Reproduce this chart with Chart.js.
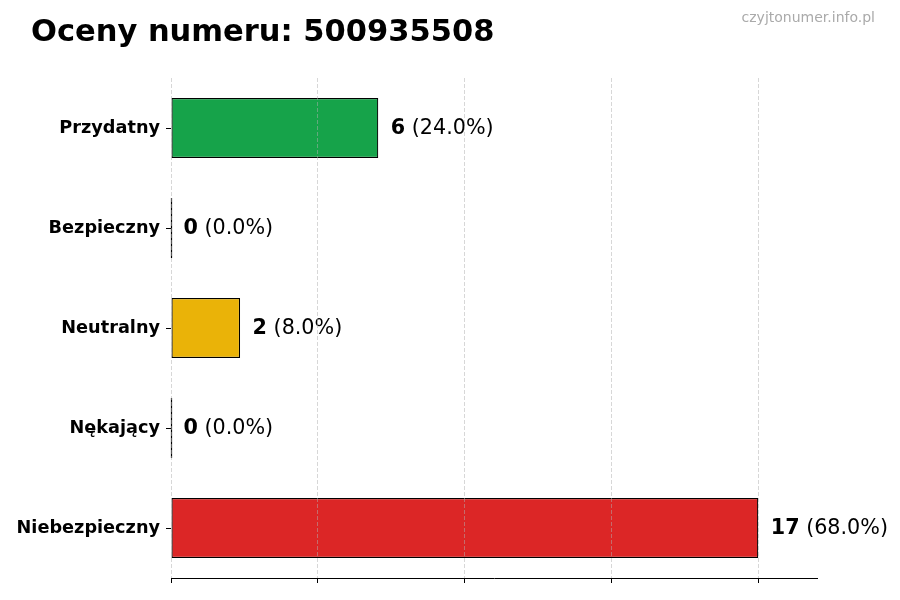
<!DOCTYPE html>
<html>
<head>
<meta charset="utf-8">
<script src="https://cdn.jsdelivr.net/npm/chart.js@4"></script>
<style>
  html, body { margin: 0; padding: 0; background: #fff; }
  #wrap { width: 900px; height: 600px; }
</style>
</head>
<body>
<div id="wrap"><canvas id="chartOceny"></canvas></div>
<script>
// ── DATA ──
const numer = "500935508";
const kategorie = ["Przydatny", "Bezpieczny", "Neutralny", "Nękający", "Niebezpieczny"];
const liczby = [6, 0, 2, 0, 17];
const kolory = ["#16a34a", "#22c55e", "#eab308", "#f97316", "#dc2626"];
const xTicks = [0, 4.25, 8.5, 12.75, 17];
const xMax = 18.7;
const tytul = "Oceny numeru: " + numer;
const watermark = "czyjtonumer.info.pl";

const suma = liczby.reduce((a, b) => a + b, 0);
const FONT = "'DejaVu Sans', sans-serif";

// tytuł, znak wodny, etykiety wartości, obrys słupków o długości 0
const extras = {
    id: "extras",
    afterDatasetsDraw(chart) {
        const ctx = chart.ctx;
        const meta = chart.getDatasetMeta(0);
        ctx.save();
        meta.data.forEach((bar, i) => {
            const v = liczby[i];
            if (v === 0) {
                ctx.strokeStyle = "#000";
                ctx.lineWidth = 1.2;
                ctx.beginPath();
                ctx.moveTo(bar.base + 0.5, bar.y - bar.height / 2);
                ctx.lineTo(bar.base + 0.5, bar.y + bar.height / 2);
                ctx.stroke();
            }
            const pct = " (" + (v / suma * 100).toFixed(1) + "%)";
            let x = bar.x + 12.5;
            ctx.textBaseline = "middle";
            ctx.textAlign = "left";
            ctx.fillStyle = "#000";
            ctx.font = "bold 20.7px " + FONT;
            ctx.fillText(String(v), x, bar.y + 1);
            x += ctx.measureText(String(v)).width;
            ctx.font = "20.7px " + FONT;
            ctx.fillText(pct, x, bar.y + 1);
        });

        ctx.textAlign = "left";
        ctx.textBaseline = "alphabetic";
        ctx.fillStyle = "#000";
        ctx.font = "bold 30.5px " + FONT;
        ctx.fillText(tytul, 31, 41);

        ctx.font = "14px " + FONT;
        ctx.fillStyle = "#aaaaaa";
        ctx.textAlign = "right";
        ctx.textBaseline = "middle";
        ctx.fillText(watermark, 875, 18);
        ctx.restore();
    }
};

new Chart(document.getElementById("chartOceny"), {
    type: "bar",
    data: {
        labels: kategorie,
        datasets: [{
            data: liczby,
            backgroundColor: kolory,
            borderColor: "#000",
            borderWidth: 1.2,
            borderSkipped: false,
            barPercentage: 0.6,
            categoryPercentage: 1
        }]
    },
    options: {
        indexAxis: "y",
        responsive: true,
        maintainAspectRatio: false,
        animation: false,
        layout: { padding: { left: 0, right: 83, top: 78, bottom: 0 } },
        plugins: {
            legend: { display: false },
            tooltip: { enabled: false },
            title: { display: false }
        },
        scales: {
            x: {
                min: 0,
                max: xMax,
                afterBuildTicks: s => { s.ticks = xTicks.map(v => ({ value: v })); },
                afterFit: s => { s.height = 22; },
                ticks: { display: false },
                grid: {
                    z: 1,
                    color: "rgba(176,176,176,0.5)",
                    drawTicks: true,
                    tickLength: 5,
                    tickColor: "#000",
                    tickBorderDash: [1, 0]
                },
                border: { display: true, color: "#000", width: 1, dash: [4, 2], z: 2 }
            },
            y: {
                afterFit: s => { s.width = 171; },
                ticks: {
                    color: "#000",
                    padding: 6,
                    font: { family: FONT, size: 17.7, weight: "bold" }
                },
                grid: {
                    offset: false,
                    drawOnChartArea: false,
                    drawTicks: true,
                    tickLength: 5,
                    tickColor: "#000"
                },
                border: { display: false }
            }
        }
    },
    plugins: [extras]
});
</script>
</body>
</html>
